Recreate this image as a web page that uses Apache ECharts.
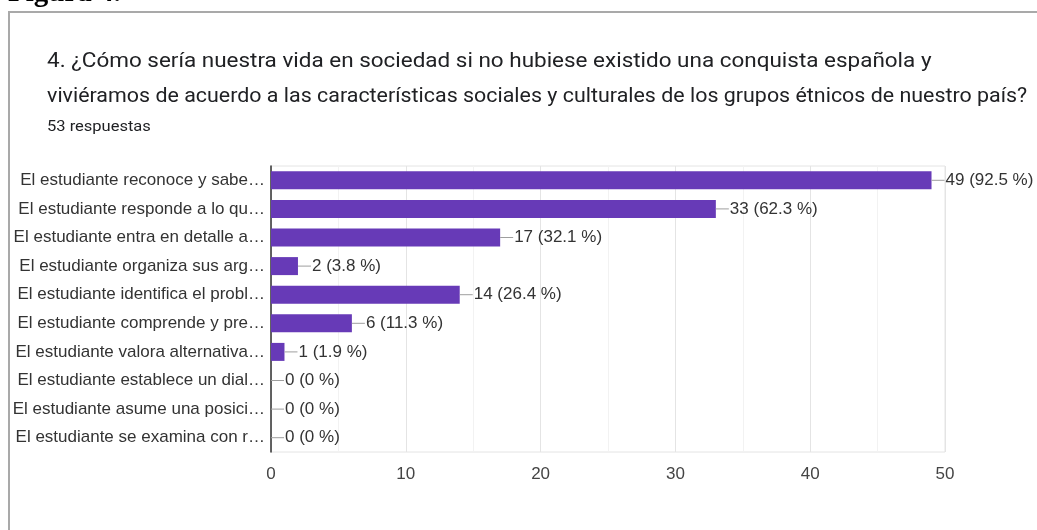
<!DOCTYPE html>
<html>
<head>
<meta charset="utf-8">
<script src="https://cdn.jsdelivr.net/npm/echarts@6/dist/echarts.min.js"></script>
<style>
  html, body { margin: 0; padding: 0; background: #fff; }
  #chart { width: 1037px; height: 530px; }
</style>
</head>
<body>
<div id="chart"></div>
<script>
// Answer categories (as shown, truncated) and response counts
const categories = [
  'El estudiante reconoce y sabe\u2026',
  'El estudiante responde a lo qu\u2026',
  'El estudiante entra en detalle a\u2026',
  'El estudiante organiza sus arg\u2026',
  'El estudiante identifica el probl\u2026',
  'El estudiante comprende y pre\u2026',
  'El estudiante valora alternativa\u2026',
  'El estudiante establece un dial\u2026',
  'El estudiante asume una posici\u2026',
  'El estudiante se examina con r\u2026'
];
const counts = [49, 33, 17, 2, 14, 6, 1, 0, 0, 0];
const totalResponses = 53;
const xTicks = [0, 10, 20, 30, 40, 50];

const titleLine1 = '4. \u00bfC\u00f3mo ser\u00eda nuestra vida en sociedad si no hubiese existido una conquista espa\u00f1ola y';
const titleLine2 = 'vivi\u00e9ramos de acuerdo a las caracter\u00edsticas sociales y culturales de los grupos \u00e9tnicos de nuestro pa\u00eds?';
const responsesText = totalResponses + ' respuestas';
const figureCaption = 'Figura 4.';

function pct(v) {
  const p = Math.round(v / totalResponses * 1000) / 10;
  return String(p);
}

const chart = echarts.init(document.getElementById('chart'), null, { renderer: 'canvas' });
const headFont = 'Roboto, "Noto Sans", sans-serif';
const axisFont = '"Liberation Sans", Arial, sans-serif';

chart.setOption({
  animation: false,
  backgroundColor: '#fff',
  textStyle: { fontFamily: axisFont },
  graphic: [
    {
      type: 'rect',
      shape: { x: 9, y: 12, width: 1200, height: 700 },
      style: { fill: 'none', stroke: '#a9a9a9', lineWidth: 2 },
      silent: true
    },
    {
      type: 'text',
      x: 8, y: 8,
      style: {
        text: figureCaption,
        font: 'bold 29px "Liberation Serif", "DejaVu Serif", serif',
        fill: '#000',
        textVerticalAlign: 'bottom'
      }
    },
    {
      type: 'text',
      x: 47, y: 62,
      scaleX: 1.07,
      style: {
        text: titleLine1,
        font: '21px ' + headFont,
        fill: '#202124',
        textVerticalAlign: 'middle'
      }
    },
    {
      type: 'text',
      x: 47, y: 97,
      scaleX: 1.02,
      style: {
        text: titleLine2,
        font: '21px ' + headFont,
        fill: '#202124',
        textVerticalAlign: 'middle'
      }
    },
    {
      type: 'text',
      x: 47, y: 127,
      scaleX: 1.1,
      style: {
        text: responsesText,
        font: '15px ' + headFont,
        fill: '#202124',
        textVerticalAlign: 'middle'
      }
    }
  ],
  grid: {
    left: 271, right: 92, top: 166, bottom: 78,
    show: true, borderColor: '#e4e4e4', borderWidth: 1,
    containLabel: false
  },
  xAxis: {
    type: 'value',
    min: xTicks[0],
    max: xTicks[xTicks.length - 1],
    interval: 10,
    axisLine: { show: false },
    axisTick: { show: false },
    axisLabel: { color: '#444', fontSize: 17, margin: 14, fontFamily: axisFont },
    splitLine: { show: true, lineStyle: { color: '#e4e4e4', width: 1 } },
    minorTick: { show: false, splitNumber: 2 },
    minorSplitLine: { show: true, lineStyle: { color: '#f2f2f2', width: 1 } }
  },
  yAxis: {
    type: 'category',
    inverse: true,
    data: categories,
    axisLine: { show: true, lineStyle: { color: '#333', width: 1.5 } },
    axisTick: { show: false },
    axisLabel: { color: '#333', fontSize: 17, margin: 6, fontFamily: axisFont }
  },
  series: [{
    type: 'bar',
    data: counts,
    barWidth: 18,
    itemStyle: { color: '#673ab7' },
    label: {
      show: true,
      position: 'right',
      distance: 0,
      formatter: p => '{ln|}{t|' + p.value + ' (' + pct(p.value) + ' %)}',
      rich: {
        ln: { width: 13, height: 1, backgroundColor: '#9e9e9e', verticalAlign: 'middle' },
        t: { fontSize: 17, color: '#333', fontFamily: axisFont, padding: [0, 0, 0, 1], verticalAlign: 'middle' }
      }
    }
  }]
});
</script>
</body>
</html>
